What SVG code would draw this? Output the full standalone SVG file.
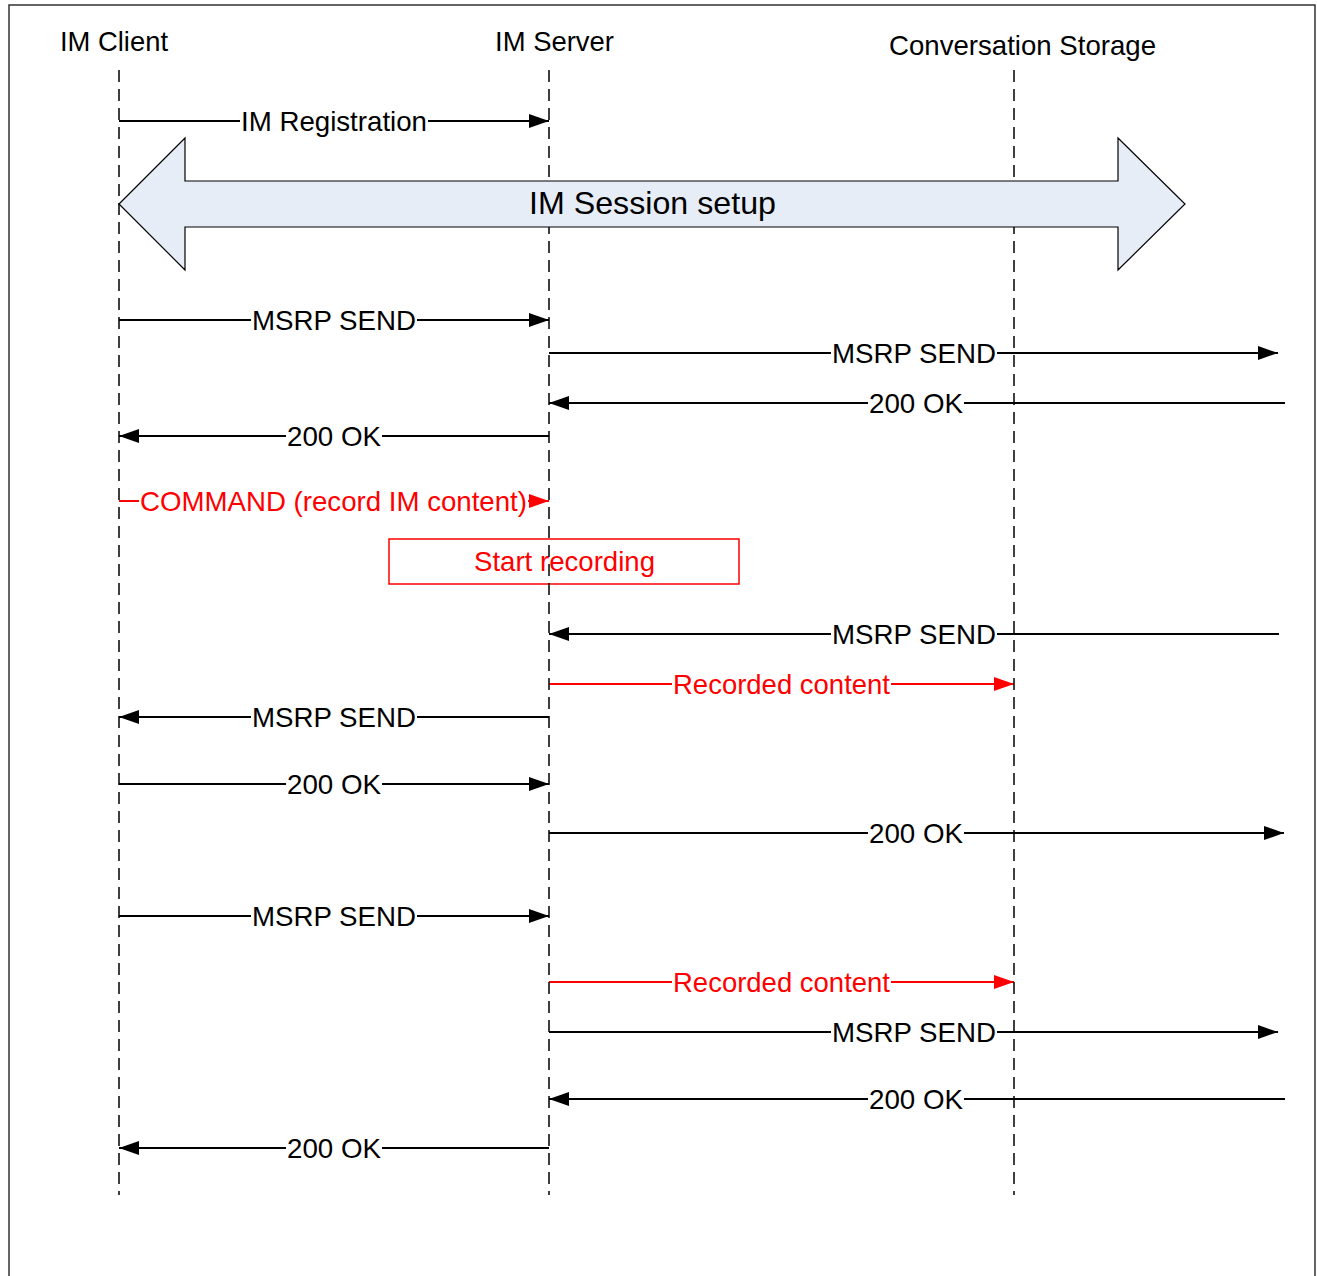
<svg xmlns="http://www.w3.org/2000/svg" width="1317" height="1276" viewBox="0 0 1317 1276">
<style>
  text { font-family: "Liberation Sans", Arial, sans-serif; font-size: 28px; text-anchor: middle; }
  .hdr { fill: #000; }
  .lbl { fill: #000; }
  .red { fill: #ff0000; }
  .msg { stroke: #000; stroke-width: 1.8; fill: none; marker-end: url(#ah); }
  .rmsg { stroke: #ff0000; stroke-width: 1.8; fill: none; marker-end: url(#ahr); }
  .bg { fill: #fff; }
  .life { stroke: #000; stroke-width: 1.5; stroke-dasharray: 12 7; fill: none; }
</style>
<defs>
  <marker id="ah" viewBox="0 0 20 14" refX="20" refY="7" markerWidth="20" markerHeight="14" markerUnits="userSpaceOnUse" orient="auto">
    <path d="M0,0 L20,7 L0,14 z" fill="#000"/>
  </marker>
  <marker id="ahr" viewBox="0 0 20 14" refX="20" refY="7" markerWidth="20" markerHeight="14" markerUnits="userSpaceOnUse" orient="auto">
    <path d="M0,0 L20,7 L0,14 z" fill="#ff0000"/>
  </marker>
</defs>
<rect x="0" y="0" width="1317" height="1276" fill="#fff"/>
<g id="frame" stroke="#333" stroke-width="1.5" fill="none">
  <path d="M9,1276 L9,5 L1315,5 L1315,1276"/>
</g>

<g id="start-recording">
  <rect x="389" y="539" width="350" height="45" fill="none" stroke="#ff0000" stroke-width="1.5"/>
  <text x="564.5" y="571" textLength="181" lengthAdjust="spacingAndGlyphs" class="red">Start recording</text>
</g>

<g id="connectors">
  <g><line class="msg" x1="119" y1="121" x2="549" y2="121"/><rect class="bg" x="240" y="110" width="188" height="22"/><text class="lbl" x="334" y="131" textLength="186" lengthAdjust="spacingAndGlyphs">IM Registration</text></g>
  <g><line class="msg" x1="119" y1="320" x2="549" y2="320"/><rect class="bg" x="251" y="309" width="166" height="22"/><text class="lbl" x="334" y="330" textLength="164" lengthAdjust="spacingAndGlyphs">MSRP SEND</text></g>
  <g><line class="msg" x1="549" y1="353" x2="1278" y2="353"/><rect class="bg" x="831" y="342" width="166" height="22"/><text class="lbl" x="914" y="363" textLength="164" lengthAdjust="spacingAndGlyphs">MSRP SEND</text></g>
  <g><line class="msg" x1="1285" y1="403" x2="549" y2="403"/><rect class="bg" x="868" y="392" width="96" height="22"/><text class="lbl" x="916" y="413" textLength="94" lengthAdjust="spacingAndGlyphs">200 OK</text></g>
  <g><line class="msg" x1="549" y1="436" x2="119" y2="436"/><rect class="bg" x="286" y="425" width="96" height="22"/><text class="lbl" x="334" y="446" textLength="94" lengthAdjust="spacingAndGlyphs">200 OK</text></g>
  <g><line class="rmsg" x1="119" y1="501" x2="549" y2="501"/><rect class="bg" x="139" y="490" width="389" height="22"/><text class="red" x="333.5" y="511" textLength="387" lengthAdjust="spacingAndGlyphs">COMMAND (record IM content)</text></g>
  <g><line class="msg" x1="1279" y1="634" x2="549" y2="634"/><rect class="bg" x="831" y="623" width="166" height="22"/><text class="lbl" x="914" y="644" textLength="164" lengthAdjust="spacingAndGlyphs">MSRP SEND</text></g>
  <g><line class="rmsg" x1="549" y1="684" x2="1014" y2="684"/><rect class="bg" x="672" y="673" width="219" height="22"/><text class="red" x="781.5" y="694" textLength="217" lengthAdjust="spacingAndGlyphs">Recorded content</text></g>
  <g><line class="msg" x1="549" y1="717" x2="119" y2="717"/><rect class="bg" x="251" y="706" width="166" height="22"/><text class="lbl" x="334" y="727" textLength="164" lengthAdjust="spacingAndGlyphs">MSRP SEND</text></g>
  <g><line class="msg" x1="119" y1="784" x2="549" y2="784"/><rect class="bg" x="286" y="773" width="96" height="22"/><text class="lbl" x="334" y="794" textLength="94" lengthAdjust="spacingAndGlyphs">200 OK</text></g>
  <g><line class="msg" x1="549" y1="833" x2="1284" y2="833"/><rect class="bg" x="868" y="822" width="96" height="22"/><text class="lbl" x="916" y="843" textLength="94" lengthAdjust="spacingAndGlyphs">200 OK</text></g>
  <g><line class="msg" x1="119" y1="916" x2="549" y2="916"/><rect class="bg" x="251" y="905" width="166" height="22"/><text class="lbl" x="334" y="926" textLength="164" lengthAdjust="spacingAndGlyphs">MSRP SEND</text></g>
  <g><line class="rmsg" x1="549" y1="982" x2="1014" y2="982"/><rect class="bg" x="672" y="971" width="219" height="22"/><text class="red" x="781.5" y="992" textLength="217" lengthAdjust="spacingAndGlyphs">Recorded content</text></g>
  <g><line class="msg" x1="549" y1="1032" x2="1278" y2="1032"/><rect class="bg" x="831" y="1021" width="166" height="22"/><text class="lbl" x="914" y="1042" textLength="164" lengthAdjust="spacingAndGlyphs">MSRP SEND</text></g>
  <g><line class="msg" x1="1285" y1="1099" x2="549" y2="1099"/><rect class="bg" x="868" y="1088" width="96" height="22"/><text class="lbl" x="916" y="1109" textLength="94" lengthAdjust="spacingAndGlyphs">200 OK</text></g>
  <g><line class="msg" x1="549" y1="1148" x2="119" y2="1148"/><rect class="bg" x="286" y="1137" width="96" height="22"/><text class="lbl" x="334" y="1158" textLength="94" lengthAdjust="spacingAndGlyphs">200 OK</text></g>
</g>

<g id="im-client">
  <text class="hdr" x="114" y="51" textLength="108" lengthAdjust="spacingAndGlyphs">IM Client</text>
  <line class="life" x1="119" y1="70" x2="119" y2="1195"/>
</g>
<g id="im-server">
  <text class="hdr" x="554.5" y="51" textLength="119" lengthAdjust="spacingAndGlyphs">IM Server</text>
  <line class="life" x1="549" y1="70" x2="549" y2="1195"/>
</g>
<g id="conversation-storage">
  <text class="hdr" x="1022.5" y="55" textLength="267" lengthAdjust="spacingAndGlyphs">Conversation Storage</text>
  <line class="life" x1="1014" y1="70" x2="1014" y2="1195"/>
</g>

<g id="session-setup">
  <polygon points="119,204 185,138 185,181 1118,181 1118,138 1185,204 1118,270 1118,227 185,227 185,270" fill="#e6edf7" stroke="#000" stroke-width="1.2"/>
  <text x="652.5" y="214" textLength="247" lengthAdjust="spacingAndGlyphs" class="lbl" style="font-size:32px">IM Session setup</text>
</g>
</svg>
